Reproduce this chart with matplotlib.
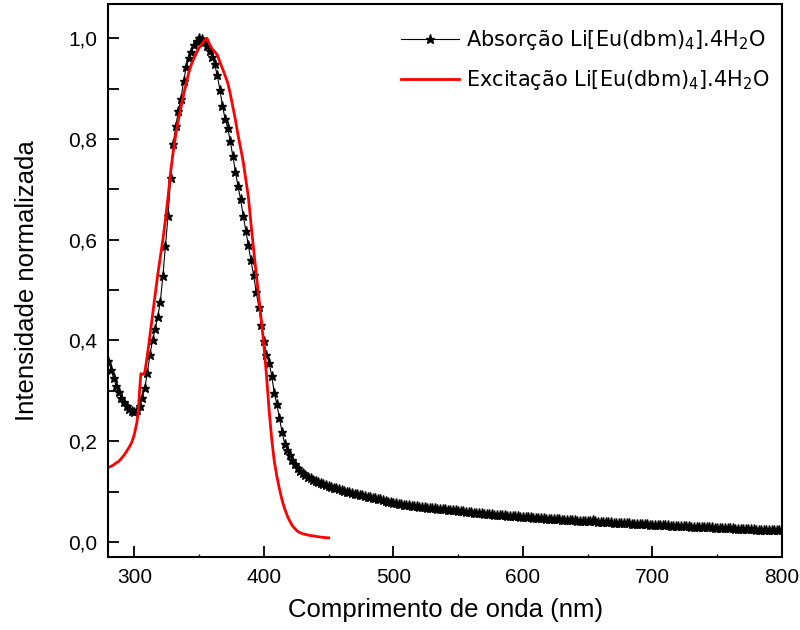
import matplotlib
matplotlib.use("Agg")
import matplotlib.pyplot as plt
from matplotlib.ticker import MultipleLocator, FuncFormatter

# Absorption spectrum (2 nm step)
abs_wl = list(range(280, 802, 2))
abs_val = [
    0.360, 0.342, 0.325, 0.310, 0.297, 0.286, 0.277, 0.269, 0.263, 0.259,  # 280-298
    0.258, 0.261, 0.270, 0.285, 0.305, 0.335, 0.372, 0.400, 0.422, 0.447,  # 300-318
    0.476, 0.528, 0.588, 0.648, 0.722, 0.790, 0.826, 0.856, 0.880, 0.915,  # 320-338
    0.942, 0.960, 0.973, 0.987, 0.995, 1.000, 0.998, 0.992, 0.984, 0.975,  # 340-358
    0.963, 0.948, 0.926, 0.898, 0.866, 0.840, 0.822, 0.796, 0.766, 0.735,  # 360-378
    0.706, 0.680, 0.648, 0.618, 0.589, 0.559, 0.530, 0.497, 0.467, 0.430,  # 380-398
    0.398, 0.372, 0.356, 0.330, 0.296, 0.273, 0.245, 0.218, 0.195, 0.183,  # 400-418
    0.172, 0.162, 0.154, 0.147, 0.141, 0.136, 0.132, 0.129, 0.126, 0.123,  # 420-438
    0.121, 0.119, 0.117, 0.115, 0.113, 0.111, 0.109, 0.107, 0.106, 0.104,  # 440-458
    0.103, 0.101, 0.100, 0.099, 0.097, 0.096, 0.095, 0.094, 0.093, 0.092,  # 460-478
    0.090, 0.089, 0.088, 0.087, 0.086, 0.085, 0.083, 0.082, 0.080, 0.079,  # 480-498
    0.078, 0.077, 0.076, 0.075, 0.074, 0.074, 0.073, 0.072, 0.071, 0.071,  # 500-518
    0.070, 0.069, 0.069, 0.068, 0.068, 0.067, 0.067, 0.066, 0.066, 0.065,  # 520-538
    0.065, 0.064, 0.064, 0.063, 0.063, 0.062, 0.062, 0.061, 0.060, 0.060,  # 540-558
    0.059, 0.058, 0.058, 0.057, 0.057, 0.056, 0.056, 0.055, 0.055, 0.054,  # 560-578
    0.054, 0.054, 0.053, 0.053, 0.052, 0.052, 0.051, 0.051, 0.051, 0.050,  # 580-598
    0.050, 0.049, 0.049, 0.049, 0.048, 0.048, 0.047, 0.047, 0.047, 0.046,  # 600-618
    0.046, 0.046, 0.045, 0.045, 0.045, 0.044, 0.044, 0.044, 0.043, 0.043,  # 620-638
    0.043, 0.042, 0.042, 0.042, 0.041, 0.041, 0.041, 0.044, 0.042, 0.040,  # 640-658
    0.040, 0.040, 0.039, 0.039, 0.039, 0.038, 0.038, 0.038, 0.037, 0.037,  # 660-678
    0.037, 0.037, 0.036, 0.036, 0.036, 0.035, 0.035, 0.035, 0.035, 0.034,  # 680-698
    0.034, 0.034, 0.034, 0.033, 0.033, 0.033, 0.033, 0.032, 0.032, 0.032,  # 700-718
    0.032, 0.031, 0.031, 0.031, 0.031, 0.030, 0.030, 0.030, 0.030, 0.030,  # 720-738
    0.029, 0.029, 0.029, 0.029, 0.028, 0.028, 0.028, 0.028, 0.027, 0.027,  # 740-758
    0.027, 0.027, 0.026, 0.026, 0.026, 0.026, 0.025, 0.025, 0.025, 0.025,  # 760-778
    0.024, 0.024, 0.024, 0.024, 0.024, 0.023, 0.023, 0.023, 0.023, 0.023,  # 780-798
    0.023,                                                                 # 800
]

# Excitation spectrum
exc_wl = [280, 282, 284, 286, 288, 290, 292, 294, 296, 298, 300, 302, 303, 304,
          305, 306, 307, 308, 310, 312, 314, 316, 318, 320, 322, 324, 326, 328,
          330, 332, 334, 336, 338, 340, 342, 344, 346, 348, 350, 352, 354, 356,
          358, 360, 362, 364, 366, 368, 370, 372, 374, 376, 378, 380, 382, 384,
          386, 388, 390, 392, 394, 396, 398, 400, 402, 404, 406, 408, 410, 412,
          414, 416, 418, 420, 422, 424, 426, 428, 430, 435, 440, 445, 450]
exc_val = [0.148, 0.150, 0.153, 0.157, 0.160, 0.166, 0.172, 0.180, 0.188, 0.198,
           0.214, 0.238, 0.260, 0.300, 0.334, 0.333, 0.333, 0.336, 0.370, 0.410,
           0.450, 0.490, 0.530, 0.565, 0.600, 0.640, 0.685, 0.735, 0.775, 0.810,
           0.838, 0.863, 0.888, 0.910, 0.932, 0.948, 0.960, 0.971, 0.981, 0.988,
           0.995, 1.000, 0.988, 0.979, 0.973, 0.967, 0.953, 0.940, 0.926, 0.912,
           0.890, 0.864, 0.838, 0.808, 0.782, 0.755, 0.720, 0.685, 0.632, 0.582,
           0.534, 0.487, 0.440, 0.390, 0.330, 0.262, 0.205, 0.160, 0.130, 0.105,
           0.083, 0.066, 0.052, 0.041, 0.032, 0.026, 0.021, 0.018, 0.016, 0.013,
           0.011, 0.009, 0.008]

labels = [r'Absorção Li[Eu(dbm)$_4$].4H$_2$O', r'Excitação Li[Eu(dbm)$_4$].4H$_2$O']
xlabel = 'Comprimento de onda (nm)'
ylabel = 'Intensidade normalizada'

plt.rcParams['font.family'] = ['Liberation Sans', 'DejaVu Sans']
plt.rcParams['mathtext.fontset'] = 'dejavusans'

fig = plt.figure(figsize=(8, 6.3), dpi=100)
ax_w, ax_h = 0.9775 - 0.1356, 0.9929 - 0.1159
ax = fig.add_axes([0.1356, 0.1159, ax_w, ax_h])

ax.plot(abs_wl, abs_val, color='black', lw=0.8, marker='*', ms=6.5,
        mec='black', mfc='black', label=labels[0])
ax.plot(exc_wl, exc_val, color='#ff0000', lw=2.0, label=labels[1])

ax.set_xlim(280, 800)
ax.set_ylim(-0.03, 1.067)
ax.xaxis.set_major_locator(MultipleLocator(100))
ax.xaxis.set_minor_locator(MultipleLocator(50))
ax.yaxis.set_major_locator(MultipleLocator(0.2))
ax.yaxis.set_minor_locator(MultipleLocator(0.1))
ax.yaxis.set_major_formatter(FuncFormatter(lambda v, p: f'{v:.1f}'.replace('.', ',')))

ax.tick_params(which='major', direction='in', length=8, width=1.3, labelsize=15,
               top=False, right=False)
ax.tick_params(axis='x', which='major', pad=8)
ax.tick_params(axis='y', which='major', pad=8)
ax.tick_params(which='minor', axis='x', direction='in', length=2, width=1.0, top=False)
ax.tick_params(which='minor', axis='y', direction='in', length=8, width=1.3, right=False)
for s in ax.spines.values():
    s.set_linewidth(1.5)

ax.set_xlabel(xlabel, fontsize=18.5, labelpad=8)
ax.set_ylabel(ylabel, fontsize=18.5, labelpad=21)

fig_w_px, fig_h_px = 800, 630
leg = ax.legend(loc='upper right', frameon=False,
                prop={'family': 'DejaVu Sans', 'size': 15},
                handlelength=2.8, handletextpad=0.35, labelspacing=0.75,
                borderaxespad=0.0, borderpad=0.0, numpoints=1,
                bbox_to_anchor=(1 - 12 / (ax_w * fig_w_px), 1 - 24 / (ax_h * fig_h_px)))

fig.savefig('out.png', dpi=100)
